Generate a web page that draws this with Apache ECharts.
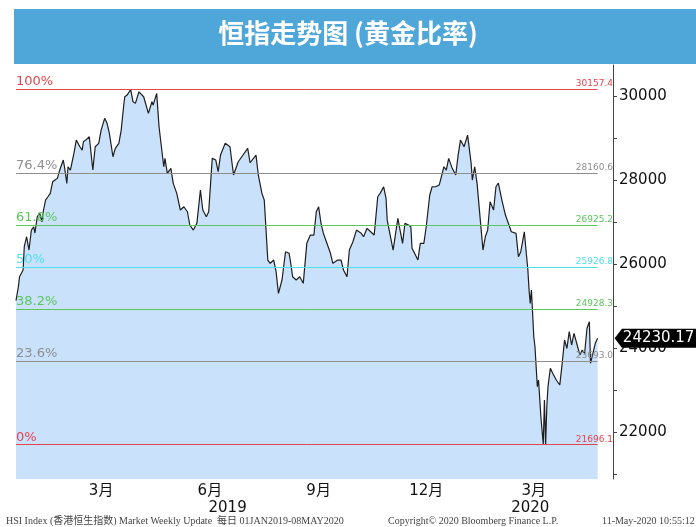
<!DOCTYPE html>
<html>
<head>
<meta charset="utf-8">
<script src="https://cdn.jsdelivr.net/npm/echarts@6/dist/echarts.min.js"></script>
<style>
  html, body { margin: 0; padding: 0; background: #fff; }
  #main { width: 696px; height: 527px; }
</style>
</head>
<body>
<div id="main"></div>
<script>
// 恒指收市价
const dates = [
  '2019-01-02','2019-01-04','2019-01-05','2019-01-08','2019-01-09','2019-01-11','2019-01-13','2019-01-15','2019-01-17','2019-01-18',
  '2019-01-20','2019-01-22','2019-01-24','2019-01-25','2019-01-27','2019-01-29','2019-01-31','2019-02-02','2019-02-04','2019-02-06',
  '2019-02-08','2019-02-11','2019-02-12','2019-02-14','2019-02-15','2019-02-17','2019-02-20','2019-02-22','2019-02-25','2019-02-27',
  '2019-02-28','2019-03-02','2019-03-05','2019-03-08','2019-03-10','2019-03-13','2019-03-15','2019-03-18','2019-03-20','2019-03-22',
  '2019-03-25','2019-03-27','2019-03-30','2019-04-01','2019-04-03','2019-04-04','2019-04-06','2019-04-09','2019-04-11','2019-04-13',
  '2019-04-16','2019-04-20','2019-04-24','2019-04-27','2019-04-28','2019-05-01','2019-05-03','2019-05-07','2019-05-08','2019-05-10',
  '2019-05-13','2019-05-15','2019-05-18','2019-05-21','2019-05-24','2019-05-27','2019-05-29','2019-06-01','2019-06-04','2019-06-07',
  '2019-06-09','2019-06-12','2019-06-14','2019-06-17','2019-06-20','2019-06-22','2019-06-24','2019-06-28','2019-07-02','2019-07-05',
  '2019-07-09','2019-07-12','2019-07-17','2019-07-19','2019-07-24','2019-07-26','2019-07-29','2019-07-31','2019-08-03','2019-08-05',
  '2019-08-08','2019-08-10','2019-08-12','2019-08-15','2019-08-18','2019-08-21','2019-08-22','2019-08-24','2019-08-27','2019-08-30',
  '2019-09-02','2019-09-05','2019-09-08','2019-09-11','2019-09-13','2019-09-15','2019-09-17','2019-09-19','2019-09-22','2019-09-25',
  '2019-09-27','2019-09-29','2019-10-01','2019-10-04','2019-10-06','2019-10-09','2019-10-11','2019-10-14','2019-10-17','2019-10-21',
  '2019-10-23','2019-10-26','2019-10-29','2019-11-01','2019-11-04','2019-11-06','2019-11-09','2019-11-11','2019-11-12','2019-11-17',
  '2019-11-21','2019-11-25','2019-11-27','2019-11-30','2019-12-02','2019-12-03','2019-12-08','2019-12-10','2019-12-13','2019-12-15',
  '2019-12-18','2019-12-20','2019-12-23','2019-12-26','2019-12-27','2019-12-30','2020-01-01','2020-01-03','2020-01-06','2020-01-09',
  '2020-01-11','2020-01-13','2020-01-16','2020-01-19','2020-01-22','2020-01-23','2020-01-25','2020-01-27','2020-01-30','2020-02-01',
  '2020-02-03','2020-02-05','2020-02-07','2020-02-10','2020-02-12','2020-02-14','2020-02-17','2020-02-20','2020-02-23','2020-02-25',
  '2020-02-29','2020-03-02','2020-03-04','2020-03-07','2020-03-08','2020-03-10','2020-03-11','2020-03-12','2020-03-13','2020-03-15',
  '2020-03-16','2020-03-18','2020-03-19','2020-03-21','2020-03-23','2020-03-24','2020-03-25','2020-03-26','2020-03-27','2020-03-29',
  '2020-03-31','2020-04-03','2020-04-06','2020-04-08','2020-04-10','2020-04-12','2020-04-14','2020-04-16','2020-04-18','2020-04-23',
  '2020-04-25','2020-04-27','2020-04-29','2020-05-01','2020-05-02','2020-05-06','2020-05-08'
]
const closes = [
  25130,25459,25698,25857,26412,26650,26333,26809,26888,26738,
  27126,27214,27007,27245,27524,27602,27683,27959,28000,28040,
  28238,28476,28317,27921,28317,28238,28636,28952,28793,28714,
  28912,28952,29031,28238,28793,28874,29190,29469,29350,29112,
  28555,28755,28874,29190,29745,29983,30024,30157,29864,29826,
  30102,29983,29588,29864,29786,30064,29269,28317,28517,28159,
  28279,27921,27683,27286,27364,27245,26929,26809,26969,27762,
  27286,27126,27245,28517,28476,28198,28595,28874,28793,28119,
  28436,28555,28755,28412,28595,28119,27683,27524,26095,26017,
  26095,25817,25302,25619,26293,26255,26095,25698,25619,25698,
  25540,26493,26690,26690,27245,27364,26969,26731,26493,26255,
  26017,26055,26095,26095,25857,25698,26333,26531,26809,26731,
  26650,26850,26769,26690,27602,27683,27840,27564,27048,26333,
  27088,26493,26969,26929,26888,26374,26095,26493,26493,26888,
  27643,27840,27840,27881,27921,28317,28238,28517,28279,28119,
  28595,28952,28793,29071,28398,28000,28317,27921,26969,26333,
  26650,26809,27483,27286,27840,27929,27524,27167,26929,26769,
  26731,26174,26293,26769,26452,25857,25381,25064,25381,24269,
  24031,23078,23238,22364,21709,22762,21696,22602,23078,23516,
  23397,23238,23119,23635,24190,23993,24388,24071,24350,23833,
  23952,23874,24469,24626,23635,24112,24230.17
]

// 黄金比率
const fibNames = ['100%', '76.4%', '61.8%', '50%', '38.2%', '23.6%', '0%']
const fibLevels = [30157.4, 28160.6, 26925.2, 25926.8, 24928.3, 23693.0, 21696.1]
const fibColors = ['#e5434f', '#8e8e8e', '#5cc65c', '#4fe0ee', '#5cc65c', '#8e8e8e', '#e5434f']

// 坐标轴刻度
const monthTicks = ['2019-03-15', '2019-06-15', '2019-09-15', '2019-12-15', '2020-03-15']
const yearTicks = ['2019-06-30', '2020-03-12']
const yLabelValues = [22000, 24000, 26000, 28000, 30000]
const yTickValues = [21000, 22000, 23000, 24000, 25000, 26000, 27000, 28000, 29000, 30000]

// 'yyyy-mm-dd' -> 时间戳
const ts = s => {
  const [y, m, d] = s.split('-').map(Number)
  return new Date(y, m - 1, d).getTime()
}
const xMin = ts('2019-01-02'), xMax = ts('2020-05-21')
const firstT = ts(dates[0]), lastT = ts(dates[dates.length - 1])
const lastClose = closes[closes.length - 1]

let markLines = []
fibLevels.forEach((v, i) => {
  // 线 + 左边百分比
  markLines.push([
    {
      coord: [firstT, v],
      lineStyle: { color: fibColors[i], width: 1, type: 'solid', opacity: 1 },
      label: {
        show: true, position: 'insideStartTop', formatter: fibNames[i],
        color: fibColors[i], fontSize: 13, fontFamily: 'DejaVu Sans', distance: [0, 1]
      }
    },
    { coord: [lastT, v] }
  ])
  // 右边数值 (透明线)
  markLines.push([
    {
      coord: [firstT, v],
      lineStyle: { color: 'rgba(0,0,0,0)', width: 1 },
      label: {
        show: true, position: 'insideEndTop', formatter: v.toFixed(1),
        color: fibColors[i], fontSize: 9, fontFamily: 'DejaVu Sans', distance: [0, 1]
      }
    },
    { coord: [xMax, v] }
  ])
})

const xAxisBase = {
  type: 'value',
  min: xMin, max: xMax,
  axisLine: { show: false },
  axisTick: { show: false },
  splitLine: { show: false }
}

const chart = echarts.init(document.getElementById('main'), null, { renderer: 'canvas' })
chart.setOption({
  animation: false,
  backgroundColor: '#fff',
  grid: { left: 16, right: 83, top: 65, bottom: 48 },
  xAxis: [
    Object.assign({}, xAxisBase, {
      axisLabel: {
        customValues: monthTicks.map(ts),
        formatter: v => (new Date(v).getMonth() + 1) + '月',
        color: '#111', fontSize: 15, fontFamily: 'DejaVu Sans, Noto Sans CJK SC', margin: 5,
        hideOverlap: false
      }
    }),
    Object.assign({}, xAxisBase, {
      position: 'bottom',
      offset: 17,
      axisLabel: {
        customValues: yearTicks.map(ts),
        formatter: v => String(new Date(v).getFullYear()),
        color: '#111', fontSize: 15, fontFamily: 'DejaVu Sans', margin: 5,
        hideOverlap: false
      }
    })
  ],
  yAxis: {
    type: 'value',
    position: 'right',
    min: 20880, max: 30740,
    axisLine: { show: true, lineStyle: { color: '#444', width: 1 } },
    axisTick: { show: true, customValues: yTickValues, length: 4, lineStyle: { color: '#444' } },
    splitLine: { show: false },
    axisLabel: {
      customValues: yLabelValues,
      formatter: v => String(v),
      color: '#111', fontSize: 15, fontFamily: 'DejaVu Sans', margin: 6
    }
  },
  series: [{
    type: 'line',
    data: dates.map((d, i) => [ts(d), closes[i]]),
    showSymbol: false,
    lineStyle: { color: '#1e1e1e', width: 1.2 },
    itemStyle: { color: '#1e1e1e' },
    areaStyle: { color: '#c9e1fb', opacity: 1 },
    markLine: {
      silent: true,
      symbol: ['none', 'none'],
      data: markLines
    },
    markPoint: {
      silent: true,
      data: [{
        coord: [lastT, lastClose],
        value: lastClose,
        symbol: 'path://M0,10L8,0L90,0L90,20L8,20Z',
        symbolSize: [82, 19],
        symbolKeepAspect: false,
        symbolOffset: [58, 0],
        itemStyle: { color: '#000' },
        label: {
          show: true, position: 'inside', offset: [3, 0],
          formatter: p => p.value.toFixed(2),
          color: '#fff', fontSize: 15, fontFamily: 'DejaVu Sans'
        }
      }]
    }
  }],
  graphic: [
    { type: 'rect', left: 14, top: 9, shape: { width: 682, height: 55 }, style: { fill: '#4ea6d9' }, z: 10 },
    {
      type: 'text', left: 'center', top: 20, z: 11,
      style: {
        text: '恒指走势图 (黄金比率)', fill: '#fff',
        font: 'bold 26px "Noto Sans CJK SC"'
      }
    },
    {
      type: 'text', left: 6, top: 516,
      style: { text: 'HSI Index (香港恒生指数) Market Weekly Update  每日 01JAN2019-08MAY2020', fill: '#444', font: '10px "Liberation Serif", "Noto Sans CJK SC"' }
    },
    {
      type: 'text', left: 388, top: 516,
      style: { text: 'Copyright© 2020 Bloomberg Finance L.P.', fill: '#444', font: '10px "Liberation Serif"' }
    },
    {
      type: 'text', left: 602, top: 516,
      style: { text: '11-May-2020 10:55:12', fill: '#444', font: '10px "Liberation Serif"' }
    }
  ]
})
</script>
</body>
</html>
